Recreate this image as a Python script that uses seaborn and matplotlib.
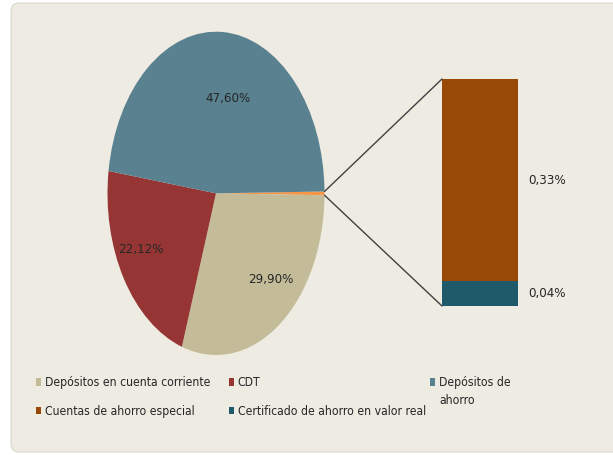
import numpy as np
import pandas as pd
import seaborn as sns
import matplotlib.pyplot as plt
from matplotlib.patches import Patch, FancyBboxPatch, ConnectionPatch

# ---- data ----
pie_names = ['Otros', 'Depósitos en cuenta corriente', 'CDT', 'Depósitos de ahorro']
pie_values = [0.37, 29.90, 22.12, 47.60]
pie_text = ['', '29,90%', '22,12%', '47,60%']
pie_colors = ['#F79646', '#C4BC98', '#963634', '#5A8190']

bar_names = ['Certificado de ahorro en valor real', 'Cuentas de ahorro especial']
bar_values = [0.04, 0.33]
bar_text = ['0,04%', '0,33%']
bar_colors = ['#1F5A6A', '#984807']

legend_names = ['Depósitos en cuenta corriente', 'CDT', 'Depósitos de',
                'Cuentas de ahorro especial', 'Certificado de ahorro en valor real']
legend_colors = ['#C4BC98', '#963634', '#5A8190', '#984807', '#1F5A6A']

sns.set_theme(style='white')
plt.rcParams['font.family'] = ['DejaVu Sans']
plt.rcParams['font.stretch'] = 'condensed'

W, H = 613, 455
fig = plt.figure(figsize=(W / 100, H / 100), dpi=100)
fig.patch.set_facecolor('white')

# background panel
panel = FancyBboxPatch((0.11, 0.03), 6.3, 4.49, boxstyle='round,pad=0,rounding_size=0.08',
                       transform=fig.dpi_scale_trans, facecolor='#EEEBE2',
                       edgecolor='#DCD9D0', linewidth=0.8, zorder=-10)
fig.add_artist(panel)

# pie (elliptical, as in the original)
axp = fig.add_axes([107.5 / W, 1 - 355 / H, 217 / W, 323.3 / H])
start = 360 * pie_values[0] / sum(pie_values) / 2
wedges, _ = axp.pie(pie_values, colors=pie_colors, startangle=start, counterclock=False,
                    radius=1, wedgeprops=dict(linewidth=0))
axp.set_aspect('auto')
axp.set_xlim(-1, 1)
axp.set_ylim(-1, 1)
axp.axis('off')

label_r = [0, 0.73, 0.77, 0.60]
label_shift = [0, 7.8, -5.2, -7.0]
for w, txt, r, s in zip(wedges, pie_text, label_r, label_shift):
    if not txt:
        continue
    a = np.deg2rad((w.theta1 + w.theta2) / 2 + s)
    axp.text(r * np.cos(a), r * np.sin(a), txt, ha='center', va='center',
             fontsize=9.5, color='#262626')

# stacked bar for the small slice
axb = fig.add_axes([442 / W, 1 - 306 / H, 76 / W, 227 / H])
cum = np.cumsum(bar_values)
df = pd.DataFrame({'g': ['x'] * len(bar_values), 'top': cum})
for i in range(len(bar_values) - 1, -1, -1):
    sns.barplot(data=df.iloc[[i]], x='g', y='top', color=bar_colors[i], width=1,
                saturation=1, ax=axb, linewidth=0)
axb.set_xlim(-0.5, 0.5)
axb.set_ylim(0, cum[-1])
axb.axis('off')
for i, txt in enumerate(bar_text):
    mid = cum[i] - bar_values[i] / 2
    axb.text(0.63, mid, txt, ha='left', va='center', fontsize=9.5, color='#262626')

# connector lines
w0 = wedges[0]
for ang, yb in [(w0.theta2, cum[-1]), (w0.theta1, 0)]:
    a = np.deg2rad(ang)
    con = ConnectionPatch(xyA=(np.cos(a), np.sin(a)), coordsA=axp.transData,
                          xyB=(-0.5, yb), coordsB=axb.transData,
                          color='#404040', linewidth=1)
    fig.add_artist(con)

# legend: two columns on the left, the wrapped entry on its own at the right
handles = [Patch(facecolor=c, edgecolor='none') for c in legend_colors]
leg_kw = dict(loc='upper left', frameon=False, fontsize=8.7, handlelength=0.45,
              handleheight=0.6, handletextpad=0.3, columnspacing=1.5,
              labelspacing=1.3, borderpad=0, borderaxespad=0, labelcolor='#262626')
order = [0, 3, 1, 4]
leg1 = fig.legend([handles[i] for i in order], [legend_names[i] for i in order],
                  bbox_to_anchor=(36 / W, 1 - 376 / H), ncol=2, **leg_kw)
leg2 = fig.legend([handles[2]], [legend_names[2]],
                  bbox_to_anchor=(430 / W, 1 - 376 / H), ncol=1, **leg_kw)

# second line of the wrapped legend entry
fig.canvas.draw()
bb = leg2.get_texts()[0].get_window_extent()
fig.text(bb.x0 / W, (bb.y0 - 5) / H, 'ahorro', ha='left', va='top',
         fontsize=8.7, color='#262626')

fig.savefig('out.png', dpi=100)
